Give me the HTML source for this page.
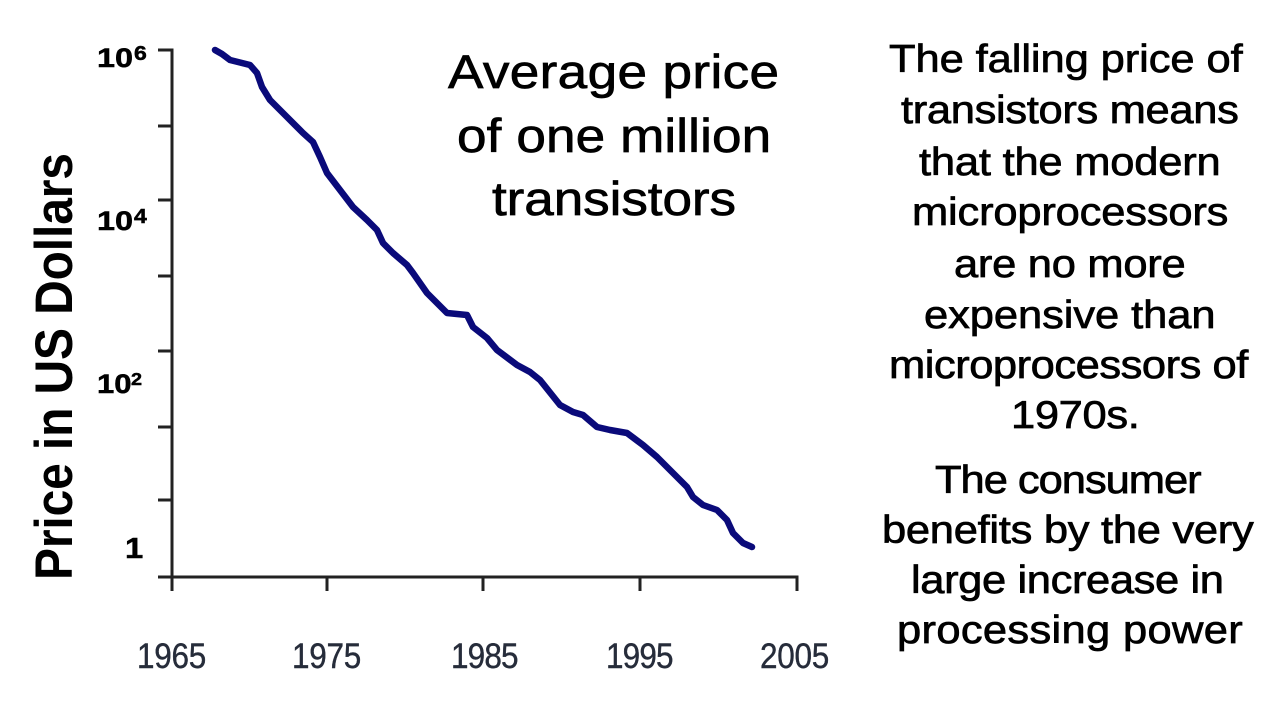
<!DOCTYPE html>
<html>
<head>
<meta charset="utf-8">
<style>
  html, body { margin: 0; padding: 0; background: #ffffff; }
  body { width: 1280px; height: 720px; overflow: hidden; }
  svg { display: block; }
</style>
</head>
<body>
<svg width="1280" height="720" viewBox="0 0 1280 720" xmlns="http://www.w3.org/2000/svg">
  <rect x="0" y="0" width="1280" height="720" fill="#ffffff"/>

  <!-- Y axis label -->
  <text transform="translate(72,580) scale(1.1,1) rotate(-90)" x="0" y="0"
        font-family="Liberation Sans, Arial, sans-serif" font-weight="bold" font-size="48"
        fill="#000" textLength="427">Price in US Dollars</text>

  <!-- Axes -->
  <g stroke="#222" stroke-width="3" fill="none" stroke-linecap="butt">
    <path d="M158,50 H172 V591"/>
    <path d="M158,126 H172 M158,200 H172 M158,276 H172 M158,351 H172 M158,427 H172 M158,500 H172"/>
    <path d="M158,577 H797 V591"/>
    <path d="M327,577 V591 M483,577 V591 M640,577 V591"/>
  </g>

  <!-- Y tick labels -->
  <g font-family="Liberation Sans, Arial, sans-serif" font-weight="bold" fill="#000" stroke="#000" stroke-width="0.5">
    <text transform="translate(97,67) scale(1.2,1)" font-size="27">10</text>
    <text transform="translate(134,60) scale(1.15,1)" font-size="20">6</text>

    <text transform="translate(97,230) scale(1.2,1)" font-size="27">10</text>
    <text transform="translate(134,223) scale(1.15,1)" font-size="20">4</text>

    <text transform="translate(97,393) scale(1.15,1)" font-size="27">10</text>
    <text transform="translate(131,385) scale(1.1,1)" font-size="18">2</text>

    <text transform="translate(125,558) scale(1.13,1)" font-size="29">1</text>
  </g>

  <!-- X tick labels -->
  <g font-family="Liberation Sans, Arial, sans-serif" font-size="35" fill="#262c3a" stroke="#262c3a" stroke-width="0.4">
    <text transform="translate(137,668) scale(0.9,1)" textLength="77">1965</text>
    <text transform="translate(292,668) scale(0.9,1)" textLength="77">1975</text>
    <text transform="translate(451,668) scale(0.9,1)" textLength="75">1985</text>
    <text transform="translate(606,668) scale(0.9,1)" textLength="75">1995</text>
    <text transform="translate(760,668) scale(0.9,1)" textLength="77">2005</text>
  </g>

  <!-- Data curve -->
  <polyline fill="none" stroke="#0a0a7a" stroke-width="6.5" stroke-linejoin="round" stroke-linecap="round"
    points="215,50 222,54 230,60 242,63 250,65 257,73 262,87 270,100 287,117 303,133 313,142 320,157 327,173 340,190 353,207 367,220 377,230 383,243 393,253 407,265 413,273 427,293 447,313 467,315 473,327 487,338 497,350 517,365 530,372 540,380 560,405 573,412 583,415 597,427 610,430 627,433 643,445 657,457 677,477 687,487 693,497 703,505 717,510 727,520 733,533 743,543 752,547"/>

  <!-- Chart title -->
  <g font-family="Liberation Sans, Arial, sans-serif" font-size="47" fill="#000" stroke="#000" stroke-width="0.7">
    <text transform="translate(448,88) scale(1.13,1)" textLength="293">Average price</text>
    <text transform="translate(457,152) scale(1.13,1)" textLength="278">of one million</text>
    <text transform="translate(492,215) scale(1.13,1)" textLength="216">transistors</text>
  </g>

  <!-- Right-hand text -->
  <g font-family="Liberation Sans, Arial, sans-serif" font-size="38.5" fill="#000" stroke="#000" stroke-width="0.7">
    <text transform="translate(889,72) scale(1.13,1)" textLength="313">The falling price of</text>
    <text transform="translate(901,123) scale(1.13,1)" textLength="299">transistors means</text>
    <text transform="translate(919,175) scale(1.13,1)" textLength="267">that the modern</text>
    <text transform="translate(912,225) scale(1.13,1)" textLength="280">microprocessors</text>
    <text transform="translate(954,277) scale(1.13,1)" textLength="205">are no more</text>
    <text transform="translate(924,328) scale(1.13,1)" textLength="258">expensive than</text>
    <text transform="translate(889,378) scale(1.13,1)" textLength="318">microprocessors of</text>
    <text transform="translate(1011,428) scale(1.13,1)" textLength="114">1970s.</text>
    <text transform="translate(935,493) scale(1.13,1)" textLength="236">The consumer</text>
    <text transform="translate(882,543) scale(1.13,1)" textLength="329">benefits by the very</text>
    <text transform="translate(911,593) scale(1.13,1)" textLength="277">large increase in</text>
    <text transform="translate(897,643) scale(1.13,1)" textLength="306">processing power</text>
  </g>
</svg>
</body>
</html>
